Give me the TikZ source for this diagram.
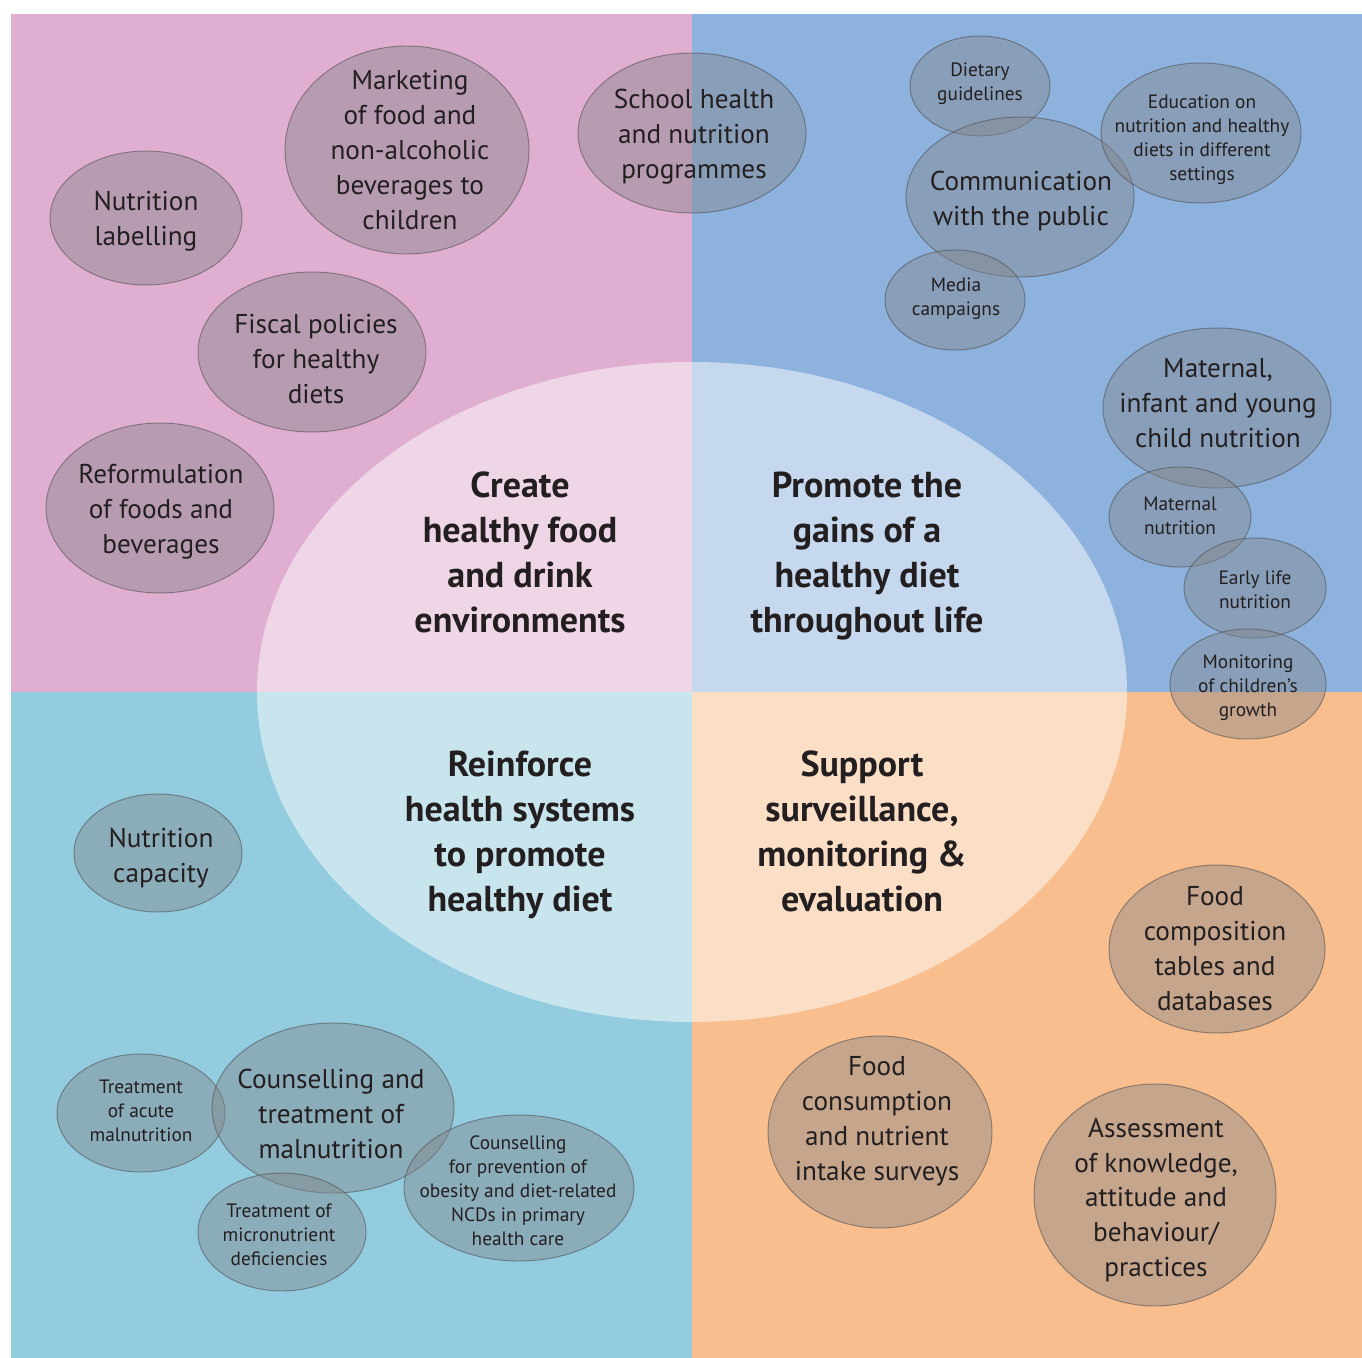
\documentclass[tikz,border=0pt]{standalone}
\usepackage{fontspec}
\setmainfont{PT Sans}
\usetikzlibrary{positioning}
\definecolor{quadpink}{RGB}{224, 174, 208}
\definecolor{quadblue}{RGB}{141, 178, 221}
\definecolor{quadcyan}{RGB}{146, 204, 222}
\definecolor{quadorange}{RGB}{248, 190, 142}
\definecolor{bubblegray}{RGB}{132, 134, 138}
\definecolor{inkdark}{RGB}{35, 31, 32}

\begin{document}
\begin{tikzpicture}[x=0.02cm, y=-0.02cm,
  bubble/.style={fill=bubblegray, fill opacity=0.44, draw=black!70, draw opacity=0.55, line width=0.55pt},
  big/.style={align=center, text=inkdark, inner sep=0pt, font=\fontsize{15.5}{19.9}\selectfont},
  small/.style={align=center, text=inkdark, inner sep=0pt, font=\fontsize{11}{13.66}\selectfont},
  title/.style={align=center, text=inkdark, inner sep=0pt, font=\fontsize{20.5}{25.6}\selectfont\bfseries}
]
  \useasboundingbox (0,0) rectangle (1362,1358);
  \fill[white] (0,0) rectangle (1362,1358);
  \fill[quadpink] (11,14) rectangle (692,692);
  \fill[quadblue] (692,14) rectangle (1362,692);
  \fill[quadcyan] (11,692) rectangle (692,1358);
  \fill[quadorange] (692,692) rectangle (1362,1358);
  \fill[white, fill opacity=0.5] (692,692) ellipse [x radius=435, y radius=330];

  \node[title] (create) at (520,552) {Create\\healthy food\\and drink\\environments};
  \node[title] (promote) at (867,556) {Promote the\\gains of a\\healthy diet\\throughout life};
  \node[title] (reinforce) at (520,835) {Reinforce\\health systems\\to promote\\healthy diet};
  \node[title] (support) at (862,831) {Support\\surveillance,\\monitoring \&\\evaluation};

  \draw[bubble] (146,218) ellipse [x radius=96, y radius=67];
  \node[big] (labelling) at (146,221) {Nutrition\\labelling};
  \draw[bubble] (407,150) ellipse [x radius=122, y radius=104];
  \node[big] (marketing) at (410,150) {Marketing\\of food and\\non-alcoholic\\beverages to\\children};
  \draw[bubble] (692,133) ellipse [x radius=114, y radius=80];
  \node[big] (school) at (694,137) {School health\\and nutrition\\programmes};
  \draw[bubble] (312,352) ellipse [x radius=114, y radius=80];
  \node[big] (fiscal) at (316,359) {Fiscal policies\\for healthy\\diets};
  \draw[bubble] (160,508) ellipse [x radius=114, y radius=85];
  \node[big] (reformulation) at (161,512) {Reformulation\\of foods and\\beverages};

  \draw[bubble] (980,86) ellipse [x radius=70, y radius=50];
  \node[small] (guidelines) at (980,84) {Dietary\\guidelines};
  \draw[bubble] (1020,197) ellipse [x radius=114, y radius=80];
  \node[big] (communication) at (1021,201) {Communication\\with the public};
  \draw[bubble] (1201,133) ellipse [x radius=100, y radius=70];
  \node[small] (education) at (1202,140) {Education on\\nutrition and healthy\\diets in different\\settings};
  \draw[bubble] (955,300) ellipse [x radius=70, y radius=50];
  \node[small] (media) at (956,299) {Media\\campaigns};
  \draw[bubble] (1217,408) ellipse [x radius=114, y radius=80];
  \node[big] (maternal) at (1218,403) {Maternal,\\infant and young\\child nutrition};
  \draw[bubble] (1180,517) ellipse [x radius=71, y radius=50];
  \node[small] (mothers) at (1180,516) {Maternal\\nutrition};
  \draw[bubble] (1255,588) ellipse [x radius=71, y radius=50];
  \node[small] (earlylife) at (1255,590) {Early life\\nutrition};
  \draw[bubble] (1248,684) ellipse [x radius=78, y radius=55];
  \node[small] (growth) at (1248,688) {Monitoring\\of children’s\\growth};

  \draw[bubble] (158,853) ellipse [x radius=84, y radius=59];
  \node[big] (capacity) at (161,858) {Nutrition\\capacity};
  \draw[bubble] (141,1113) ellipse [x radius=84, y radius=59];
  \node[small] (acute) at (141,1111) {Treatment\\of acute\\malnutrition};
  \draw[bubble] (333,1108) ellipse [x radius=121, y radius=85];
  \node[big] (counselling) at (331,1114) {Counselling and\\treatment of\\malnutrition};
  \draw[bubble] (282,1232) ellipse [x radius=84, y radius=59];
  \node[small] (micronutrient) at (279,1235) {Treatment of\\micronutrient\\deficiencies};
  \draw[bubble] (519,1188) ellipse [x radius=115, y radius=73];
  \node[small] (prevention) at (518,1191) {Counselling\\for prevention of\\obesity and diet-related\\NCDs in primary\\health care};

  \draw[bubble] (1217,949) ellipse [x radius=108, y radius=84];
  \node[big] (composition) at (1215,949) {Food\\composition\\tables and\\databases};
  \draw[bubble] (880,1132) ellipse [x radius=112, y radius=96];
  \node[big] (consumption) at (877,1121) {Food\\consumption\\and nutrient\\intake surveys};
  \draw[bubble] (1155,1195) ellipse [x radius=121, y radius=111];
  \node[big] (assessment) at (1156,1200) {Assessment\\of knowledge,\\attitude and\\behaviour/\\practices};
\end{tikzpicture}
\end{document}
